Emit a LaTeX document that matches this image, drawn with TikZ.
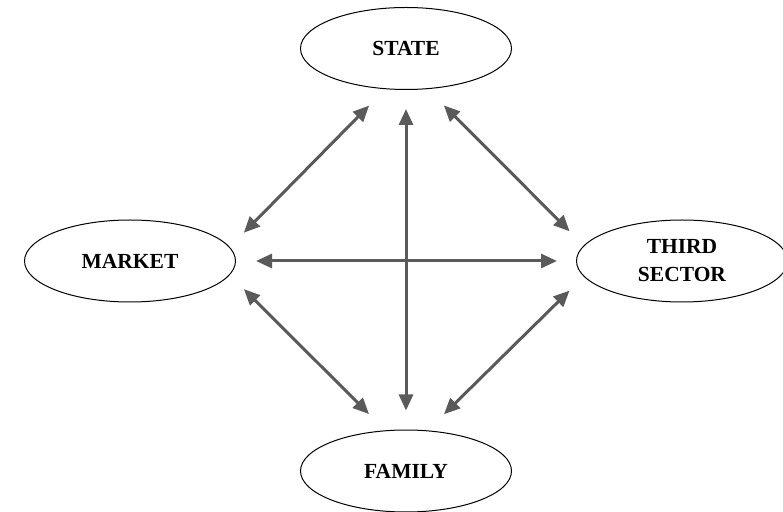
\documentclass[tikz,border=0pt]{standalone}
\usepackage{fontspec}
\setmainfont{Liberation Serif}
\usetikzlibrary{arrows.meta,shapes.geometric}
\definecolor{arrowgray}{HTML}{5A5A5A}
\begin{document}
\begin{tikzpicture}[x=1pt,y=1pt,
  sector/.style={ellipse,draw=black,line width=1pt,inner sep=0pt,
    minimum width=211pt,minimum height=82pt,align=center,
    font=\fontsize{21.5}{28}\selectfont\bfseries},
  link/.style={arrowgray,line width=3pt,
    {Triangle[length=16pt,width=14pt]}-{Triangle[length=16pt,width=14pt]}}]
\useasboundingbox (0,0) rectangle (783,511);
\node[sector] (S) at (406,462.5) {STATE};
\node[sector] (M) at (130,250) {MARKET};
\node[sector] (T) at (682,250) {THIRD\\SECTOR};
\node[sector] (F) at (406,40) {FAMILY};
\draw[link,shorten <=23pt,shorten >=20pt] (S.-117.8) -- (M.8.9);
\draw[link,shorten <=23pt,shorten >=20pt] (S.-62.2) -- (T.171.1);
\draw[link,shorten <=23pt,shorten >=20pt] (F.117.8) -- (M.-8.9);
\draw[link,shorten <=23pt,shorten >=20pt] (F.62.2) -- (T.-171.1);
\draw[link,shorten <=20pt,shorten >=19pt] (M.east) -- (T.west);
\draw[link,shorten <=19pt,shorten >=19pt] (S.south) -- (F.north);
\end{tikzpicture}
\end{document}
